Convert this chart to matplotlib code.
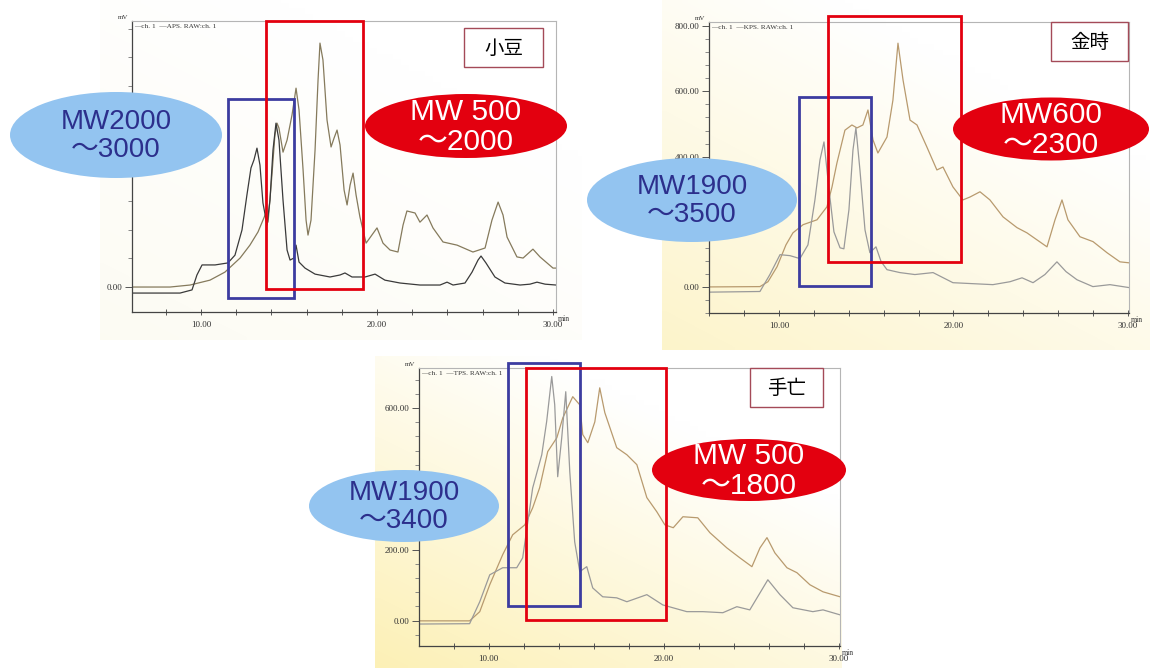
import matplotlib.pyplot as plt
import numpy as np
from matplotlib.patches import Rectangle, Ellipse
from matplotlib.ticker import FixedLocator, MultipleLocator

# --- 小豆 (APS) ---
azuki_ch1_t = [6.1, 8.81, 9.49, 9.77, 10.06, 10.80, 11.53, 11.93, 12.33, 12.61, 12.84, 13.01, 13.18,
               13.35, 13.52, 13.75, 13.92, 14.09, 14.26, 14.43, 14.66, 14.89, 15.06, 15.28, 15.40,
               15.57, 15.91, 16.48, 17.33, 17.90, 18.18, 18.58, 19.32, 19.89, 20.45, 21.31, 22.44,
               23.58, 23.98, 24.32, 25.0, 25.40, 25.74, 25.91, 26.19, 26.70, 27.27, 28.13, 28.69,
               29.09, 29.55, 30.17]
azuki_ch1_mv = [-21, -21, -10, 42, 77, 77, 84, 111, 199, 321, 415, 443, 484, 425, 293, 216, 303,
                477, 571, 512, 303, 129, 94, 101, 146, 87, 66, 45, 35, 42, 49, 35, 35, 45, 24, 14,
                7, 7, 17, 7, 14, 52, 94, 108, 84, 35, 14, 7, 10, 17, 10, 7]
azuki_raw_t = [6.08, 8.24, 9.38, 10.51, 11.36, 12.22, 12.78, 13.24, 13.52, 13.69, 13.81, 14.03,
               14.20, 14.32, 14.43, 14.66, 14.89, 15.17, 15.40, 15.57, 15.80, 15.97, 16.08, 16.25,
               16.48, 16.65, 16.76, 16.93, 17.16, 17.39, 17.56, 17.73, 17.90, 18.13, 18.30, 18.47,
               18.64, 18.81, 19.03, 19.38, 20.0, 20.34, 20.74, 21.19, 21.48, 21.70, 22.16, 22.44,
               22.84, 23.18, 23.75, 24.55, 25.45, 26.14, 26.53, 26.88, 27.16, 27.39, 27.95, 28.30,
               28.86, 29.26, 30.0, 30.17]
azuki_raw_mv = [0, 0, 7, 24, 52, 101, 146, 192, 233, 258, 226, 390, 530, 571, 554, 470, 512, 599,
                693, 617, 408, 233, 181, 233, 477, 721, 850, 791, 582, 488, 519, 547, 495, 338,
                286, 355, 397, 321, 244, 153, 206, 153, 129, 122, 216, 265, 258, 226, 251, 206,
                157, 146, 122, 136, 233, 296, 251, 174, 105, 101, 132, 105, 66, 66]

# --- 金時 (KPS) ---
kintoki_ch1_t = [5.99, 8.91, 9.48, 10.06, 10.63, 11.20, 11.66, 12.06, 12.35, 12.58, 12.87, 13.15,
                 13.50, 13.72, 14.01, 14.24, 14.41, 14.64, 14.93, 15.21, 15.56, 15.85, 16.19,
                 16.93, 17.79, 18.83, 19.97, 22.26, 23.24, 23.93, 24.56, 25.24, 25.93, 26.45,
                 27.08, 27.99, 28.97, 30.06]
kintoki_ch1_mv = [-16, -14, 38, 99, 96, 87, 129, 267, 390, 445, 298, 169, 120, 117, 237, 420, 488,
                  359, 175, 105, 123, 78, 53, 44, 38, 44, 13, 7, 16, 28, 13, 38, 77, 47, 22, 1, 7,
                  -2]
kintoki_raw_t = [5.99, 8.91, 9.37, 9.89, 10.40, 10.80, 11.38, 12.18, 12.75, 13.04, 13.32, 13.78,
                 14.18, 14.47, 14.81, 15.10, 15.39, 15.67, 16.19, 16.53, 16.82, 17.11, 17.51,
                 17.91, 18.48, 19.05, 19.40, 19.97, 20.54, 20.95, 21.52, 22.09, 22.84, 23.64,
                 24.21, 25.36, 25.82, 26.22, 26.56, 27.25, 28.0, 28.80, 29.54, 30.06]
kintoki_raw_mv = [0, 1, 16, 62, 129, 166, 191, 206, 246, 307, 380, 481, 497, 488, 497, 543, 451,
                  411, 460, 573, 748, 635, 512, 497, 429, 359, 368, 307, 267, 276, 292, 267, 215,
                  182, 166, 123, 206, 267, 206, 154, 139, 105, 77, 74]

# --- 手亡 (TPS) ---
tebo_ch1_t = [6.0, 8.91, 9.49, 10.06, 10.80, 11.60, 11.94, 12.51, 13.03, 13.31, 13.60, 13.77,
              13.94, 14.17, 14.40, 14.63, 14.91, 15.20, 15.60, 15.94, 16.51, 17.31, 17.89, 19.03,
              19.94, 21.31, 22.23, 23.37, 24.17, 24.91, 25.94, 26.63, 27.37, 28.51, 29.09, 30.06]
tebo_ch1_mv = [-10, -9, 53, 129, 149, 149, 177, 374, 468, 562, 689, 609, 406, 516, 646, 420, 222,
               138, 152, 92, 67, 64, 53, 73, 44, 25, 25, 22, 39, 30, 115, 73, 36, 25, 30, 16]
tebo_raw_t = [6.0, 8.91, 9.49, 10.06, 10.80, 11.37, 12.06, 12.51, 12.91, 13.37, 13.89, 14.23,
              14.80, 15.20, 15.37, 15.66, 16.06, 16.34, 16.63, 17.31, 17.89, 18.46, 19.03, 19.60,
              20.06, 20.54, 21.09, 21.94, 22.63, 23.60, 24.34, 25.03, 25.49, 25.89, 26.34, 27.03,
              27.60, 28.34, 29.09, 30.06]
tebo_raw_mv = [-1, -1, 25, 101, 186, 242, 270, 318, 375, 477, 516, 572, 632, 609, 525, 502, 561,
               657, 587, 488, 468, 440, 347, 307, 270, 262, 293, 290, 248, 205, 177, 152, 205,
               234, 191, 149, 135, 101, 81, 67]

names = ["小豆", "金時", "手亡"]
legends = ["—ch. 1  —APS. RAW:ch. 1", "—ch. 1  —KPS. RAW:ch. 1", "—ch. 1  —TPS. RAW:ch. 1"]
low_mw = ["MW2000\n～3000", "MW1900\n～3500", "MW1900\n～3400"]
high_mw = ["MW 500\n～2000", "MW600\n～2300", "MW 500\n～1800"]

W, H = 1150, 668
fig = plt.figure(figsize=(W / 100, H / 100), dpi=100)
fig.patch.set_facecolor("white")

SERIF = "Liberation Serif"
SANS = ["Liberation Sans", "Noto Sans CJK JP"]


def frac(left, top, right, bottom):
    return [left / W, 1 - bottom / H, (right - left) / W, (bottom - top) / H]


# background axes for the scanned paper tint
bg = fig.add_axes([0, 0, 1, 1], zorder=0)
bg.axis("off")


def scan_bg(extent, tint, strength):
    u = np.linspace(0, 1, 60)
    uu, vv = np.meshgrid(u, u)
    w = np.clip((1 - uu) * 0.55 + vv * 0.75 - 0.35, 0, 1) * strength
    img = np.ones((60, 60, 3))
    for k in range(3):
        img[..., k] = 1 - w * (1 - tint[k])
    bg.imshow(img, extent=extent, aspect="auto", interpolation="bilinear")


scan_bg((100, 582, 340, 0), (0.98, 0.97, 0.90), 0.5)
scan_bg((662, 1150, 350, 0), (0.99, 0.95, 0.76), 0.9)
scan_bg((375, 842, 668, 356), (0.99, 0.94, 0.70), 1.0)
bg.set_xlim(0, W)
bg.set_ylim(H, 0)


def panel(box, xlim, ylim, ylabels, yminor, t1, y1, t2, y2, c1, c2, legend):
    ax = fig.add_axes(frac(*box), zorder=1)
    ax.patch.set_alpha(0)
    ax.plot(t2, y2, color=c2, lw=0.9)
    ax.plot(t1, y1, color=c1, lw=0.9)
    ax.set_xlim(*xlim)
    ax.set_ylim(*ylim)
    ax.xaxis.set_major_locator(FixedLocator([10, 20, 30]))
    ax.xaxis.set_major_formatter(lambda v, p: f"{v:.2f}")
    ax.xaxis.set_minor_locator(MultipleLocator(2))
    ax.yaxis.set_major_locator(FixedLocator(ylabels))
    ax.yaxis.set_major_formatter(lambda v, p: f"{v:.2f}")
    ax.yaxis.set_minor_locator(MultipleLocator(yminor))
    ax.tick_params(axis="x", which="both", direction="inout", length=5, width=0.7,
                   color="#555", pad=4, labelsize=6.5, labelcolor="#333")
    ax.tick_params(axis="y", which="major", direction="out", length=5, width=0.7,
                   color="#555", pad=2, labelsize=6.5, labelcolor="#333")
    ax.tick_params(axis="y", which="minor", direction="out", length=3, width=0.6, color="#777")
    for lab in ax.get_xticklabels() + ax.get_yticklabels():
        lab.set_family(SERIF)
    for s in ("left", "bottom"):
        ax.spines[s].set_color("#444")
        ax.spines[s].set_linewidth(0.9)
    for s in ("top", "right"):
        ax.spines[s].set_color("#b5b5b5")
        ax.spines[s].set_linewidth(0.8)
    ax.text(0.006, 0.988, legend, transform=ax.transAxes, va="top", ha="left",
            fontsize=5.2, family=SERIF, color="#333")
    ax.text(-0.008, 1.005, "mV", transform=ax.transAxes, va="bottom", ha="right",
            fontsize=5, family=SERIF, color="#333")
    ax.text(1.005, -0.01, "min", transform=ax.transAxes, va="top", ha="left",
            fontsize=5.5, family=SERIF, color="#333")
    return ax


# y labels hidden under the callouts in the original are left out
panel((132, 21, 556, 312), (6.08, 30.17), (-87, 927), [0], 100,
      azuki_ch1_t, azuki_ch1_mv, azuki_raw_t, azuki_raw_mv, "#3a3a3a", "#857a5c", legends[0])
panel((709, 22, 1129, 313), (5.99, 30.06), (-80, 813), [0, 400, 600, 800], 40,
      kintoki_ch1_t, kintoki_ch1_mv, kintoki_raw_t, kintoki_raw_mv, "#9a9a9a", "#b89a6e",
      legends[1])
panel((419, 368, 840, 646), (6.02, 30.06), (-72, 713), [0, 200, 600], 40,
      tebo_ch1_t, tebo_ch1_mv, tebo_raw_t, tebo_raw_mv, "#9a9a9a", "#b89a6e", legends[2])

# overlay annotations in pixel space
ov = fig.add_axes([0, 0, 1, 1], zorder=5)
ov.patch.set_alpha(0)
ov.set_xlim(0, W)
ov.set_ylim(H, 0)
ov.axis("off")

BLUE_BOX = "#3c3ca0"
RED = "#e3000f"
ELL_BLUE = "#93c4f0"
TXT_BLUE = "#2c2f8c"

blue_boxes = [(228, 99, 294, 298), (799, 97, 871, 286), (508, 363, 580, 606)]
red_boxes = [(266, 21, 363, 289), (828, 16, 961, 262), (526, 368, 666, 620)]
name_boxes = [(464, 28, 543, 67), (1051, 22, 1128, 61), (750, 368, 823, 407)]
blue_ells = [(116, 135, 212, 86), (692, 200, 210, 84), (404, 506, 190, 72)]
red_ells = [(466, 126, 202, 64), (1051, 129, 196, 63), (749, 470, 194, 62)]

for i in range(3):
    x0, y0, x1, y1 = blue_boxes[i]
    ov.add_patch(Rectangle((x0, y0), x1 - x0, y1 - y0, fill=False, ec=BLUE_BOX, lw=2.0))
    x0, y0, x1, y1 = red_boxes[i]
    ov.add_patch(Rectangle((x0, y0), x1 - x0, y1 - y0, fill=False, ec=RED, lw=2.0))
    x0, y0, x1, y1 = name_boxes[i]
    ov.add_patch(Rectangle((x0, y0), x1 - x0, y1 - y0, fc="white", ec="#a44a58", lw=1.0))
    ov.text((x0 + x1) / 2, (y0 + y1) / 2 + 1, names[i], ha="center", va="center",
            fontsize=14, family="Noto Sans CJK JP", color="black")
    cx, cy, ew, eh = blue_ells[i]
    ov.add_patch(Ellipse((cx, cy), ew, eh, fc=ELL_BLUE, ec="none"))
    ov.text(cx, cy + 1, low_mw[i], ha="center", va="center", fontsize=20, family=SANS,
            color=TXT_BLUE, linespacing=1.1)
    cx, cy, ew, eh = red_ells[i]
    ov.add_patch(Ellipse((cx, cy), ew, eh, fc=RED, ec="none"))
    ov.text(cx, cy + 1, high_mw[i], ha="center", va="center", fontsize=21.5, family=SANS,
            color="white", linespacing=1.05)

fig.savefig("out.png", dpi=100)
